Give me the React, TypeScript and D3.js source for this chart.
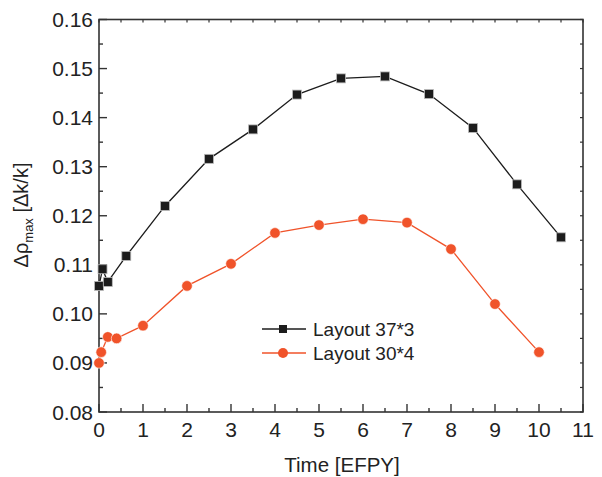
import React from 'react';
import * as d3 from 'd3';

// Layout 37*3 (black squares)
const time373 = [0, 0.08, 0.2, 0.62, 1.5, 2.5, 3.5, 4.5, 5.5, 6.5, 7.5, 8.5, 9.5, 10.5];
const rho373 = [0.1057, 0.1091, 0.1065, 0.1118, 0.122, 0.1316, 0.1376, 0.1447, 0.148, 0.1484, 0.1448, 0.1379, 0.1264, 0.1156];

// Layout 30*4 (orange circles)
const time304 = [0, 0.05, 0.2, 0.4, 1, 2, 3, 4, 5, 6, 7, 8, 9, 10];
const rho304 = [0.09, 0.0922, 0.0953, 0.095, 0.0976, 0.1057, 0.1102, 0.1165, 0.1181, 0.1193, 0.1186, 0.1132, 0.102, 0.0922];

const xTicks = [0, 1, 2, 3, 4, 5, 6, 7, 8, 9, 10, 11];
const yTicks = [0.08, 0.09, 0.1, 0.11, 0.12, 0.13, 0.14, 0.15, 0.16];
const legendLabels = ['Layout 37*3', 'Layout 30*4'];

const W = 602;
const H = 477;
const font = '"Liberation Sans", Arial, sans-serif';
const axisColor = '#333';
const black = '#1c1c1c';
const orange = '#f0532a';

export default function App() {
  const x = d3.scaleLinear().domain([0, 11]).range([99, 583]);
  const y = d3.scaleLinear().domain([0.08, 0.16]).range([412, 19.5]);

  const line = d3
    .line<[number, number]>()
    .x((d) => x(d[0]))
    .y((d) => y(d[1]));

  const pts373: [number, number][] = time373.map((t, i) => [t, rho373[i]]);
  const pts304: [number, number][] = time304.map((t, i) => [t, rho304[i]]);

  const xMinor = d3.range(0.5, 11, 1);
  const yMinor = d3.range(0.085, 0.16, 0.01);
  const [x0, x1] = x.range();
  const [y0, y1] = y.range();

  return (
    <svg width={W} height={H} style={{ position: 'absolute', left: 0, top: 0, background: '#fff' }} fontFamily={font}>
      {/* frame */}
      <rect x={x0} y={y1} width={x1 - x0} height={y0 - y1} fill="none" stroke={axisColor} strokeWidth={1.6} />

      {/* bottom ticks */}
      {xTicks.map((t) => (
        <g key={'xt' + t}>
          <line x1={x(t)} x2={x(t)} y1={y0} y2={y0 - 8} stroke={axisColor} strokeWidth={1.4} />
          <line x1={x(t)} x2={x(t)} y1={y1} y2={y1 + 3} stroke={axisColor} strokeWidth={1.2} />
          <text x={x(t)} y={437} textAnchor="middle" fontSize={21} fill="#222">
            {t}
          </text>
        </g>
      ))}
      {xMinor.map((t) => (
        <g key={'xm' + t}>
          <line x1={x(t)} x2={x(t)} y1={y0} y2={y0 - 4} stroke={axisColor} strokeWidth={1.4} />
          <line x1={x(t)} x2={x(t)} y1={y1} y2={y1 + 3} stroke={axisColor} strokeWidth={1.2} />
        </g>
      ))}

      {/* left ticks */}
      {yTicks.map((t) => (
        <g key={'yt' + t}>
          <line x1={x0} x2={x0 + 8} y1={y(t)} y2={y(t)} stroke={axisColor} strokeWidth={1.4} />
          <line x1={x1} x2={x1 - 3} y1={y(t)} y2={y(t)} stroke={axisColor} strokeWidth={1.2} />
          <text x={93} y={y(t) + 7.5} textAnchor="end" fontSize={21} fill="#222">
            {d3.format('.2f')(t)}
          </text>
        </g>
      ))}
      {yMinor.map((t) => (
        <g key={'ym' + t}>
          <line x1={x0} x2={x0 + 4} y1={y(t)} y2={y(t)} stroke={axisColor} strokeWidth={1.4} />
          <line x1={x1} x2={x1 - 3} y1={y(t)} y2={y(t)} stroke={axisColor} strokeWidth={1.2} />
        </g>
      ))}

      {/* axis titles */}
      <text x={342} y={472} textAnchor="middle" fontSize={20.5} fill="#222">
        Time [EFPY]
      </text>
      <text transform={`translate(28,${215}) rotate(-90)`} textAnchor="middle" fontSize={20} fill="#222">
        Δρ
        <tspan fontSize={13} dy={5}>max</tspan>
        <tspan dy={-5}> [Δk/k]</tspan>
      </text>

      {/* series */}
      <path d={line(pts373) || ''} fill="none" stroke={black} strokeWidth={1.3} />
      <path d={line(pts304) || ''} fill="none" stroke={orange} strokeWidth={1.3} />
      {pts373.map((d, i) => (
        <rect key={'s' + i} x={x(d[0]) - 4.5} y={y(d[1]) - 4.5} width={9} height={9} fill={black} stroke="#bbb" strokeWidth={0.8} />
      ))}
      {pts304.map((d, i) => (
        <circle key={'c' + i} cx={x(d[0])} cy={y(d[1])} r={5.3} fill={orange} stroke="#fff" strokeWidth={0.6} />
      ))}

      {/* legend */}
      <g>
        <line x1={262} x2={306} y1={329} y2={329} stroke={black} strokeWidth={1.5} />
        <rect x={279} y={325} width={8} height={8} fill={black} />
        <text x={313} y={336} fontSize={19} fill="#222">{legendLabels[0]}</text>
        <line x1={262} x2={306} y1={353} y2={353} stroke={orange} strokeWidth={1.5} />
        <circle cx={283} cy={353} r={5} fill={orange} />
        <text x={313} y={360} fontSize={19} fill="#222">{legendLabels[1]}</text>
      </g>
    </svg>
  );
}
